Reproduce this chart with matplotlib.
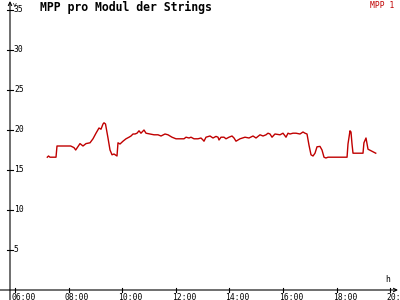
import matplotlib
matplotlib.use("Agg")
import matplotlib.pyplot as plt

# time of day in hours, MPP voltage (V)
times = [7.205, 7.25, 7.306, 7.53, 7.567, 8.078, 8.20, 8.265, 8.425, 8.537, 8.649, 8.799,
         8.91, 9.022, 9.134, 9.209, 9.284, 9.321, 9.377, 9.47, 9.545, 9.62, 9.694, 9.806,
         9.843, 9.918, 10.03, 10.142, 10.254, 10.328, 10.403, 10.478, 10.552, 10.627, 10.70,
         10.813, 10.888, 11.037, 11.187, 11.336, 11.448, 11.597, 11.709, 11.858, 12.007,
         12.157, 12.306, 12.381, 12.493, 12.567, 12.679, 12.828, 12.94, 13.015, 13.052,
         13.127, 13.276, 13.388, 13.5, 13.575, 13.612, 13.687, 13.799, 13.873, 13.985,
         14.097, 14.172, 14.246, 14.396, 14.582, 14.731, 14.881, 14.993, 15.142, 15.254,
         15.366, 15.44, 15.515, 15.59, 15.70, 15.888, 16.0, 16.112, 16.187, 16.261, 16.373,
         16.485, 16.634, 16.746, 16.82, 16.896, 16.97, 17.045, 17.12, 17.194, 17.269, 17.38,
         17.455, 17.53, 17.60, 17.68, 18.39, 18.425, 18.5, 18.537, 18.575, 18.612, 18.985,
         19.02, 19.097, 19.172, 19.46]
volts = [16.6, 16.75, 16.6, 16.6, 18.0, 18.0, 17.8, 17.5, 18.3, 18.0, 18.3, 18.4,
         18.9, 19.6, 20.25, 20.1, 20.75, 20.9, 20.75, 19.0, 17.5, 16.9, 17.0, 16.75,
         18.4, 18.25, 18.6, 18.9, 19.1, 19.25, 19.5, 19.5, 19.6, 19.9, 19.6,
         20.0, 19.6, 19.5, 19.4, 19.4, 19.25, 19.5, 19.4, 19.1, 18.9,
         18.9, 18.9, 19.1, 19.0, 19.1, 18.9, 18.9, 19.0, 18.75, 18.6,
         19.1, 19.25, 19.0, 19.2, 19.1, 18.75, 19.1, 19.1, 18.9, 19.1,
         19.25, 19.0, 18.6, 18.9, 19.1, 19.0, 19.25, 19.0, 19.4, 19.25,
         19.4, 19.6, 19.5, 19.1, 19.5, 19.4, 19.6, 19.1, 19.6, 19.5, 19.6,
         19.6, 19.5, 19.75, 19.6, 19.5, 18.1, 16.9, 16.75, 17.1, 17.9, 17.95,
         17.5, 16.6, 16.5, 16.6, 16.6, 18.25, 19.9, 19.75, 18.25, 17.1, 17.1,
         18.4, 19.0, 17.6, 17.1]

y_ticks = [5, 10, 15, 20, 25, 30, 35]
x_ticks = [6, 8, 10, 12, 14, 16, 18, 20]
x_labels = ["06:00", "08:00", "10:00", "12:00", "14:00", "16:00", "18:00", "20:00"]

title = "MPP pro Modul der Strings"
series_name = "MPP 1"

red = "#c00000"
mono = "DejaVu Sans Mono"

fig = plt.figure(figsize=(4, 3), dpi=100)
ax = fig.add_axes([0, 0, 1, 1])
ax.axis("off")
# pixel mapping: x px 15 -> 6h, 26.8 px/h ; y px 290 -> 0 V, 8 px/V
px_h = 26.8
px_v = 8.0
ax.set_xlim(6 - 15 / px_h, 6 + 385 / px_h)
ax.set_ylim(-10 / px_v, 290 / px_v)

x0 = 6 - 5 / px_h  # y-axis position

# axes with arrows
ax.annotate("", xy=(x0, 289 / px_v), xytext=(x0, -10 / px_v),
            arrowprops=dict(arrowstyle="->", lw=0.8, color="black", shrinkA=0, shrinkB=0,
                            mutation_scale=6))
ax.annotate("", xy=(6 + 383 / px_h, 0), xytext=(6 - 15 / px_h, 0),
            arrowprops=dict(arrowstyle="->", lw=0.8, color="black", shrinkA=0, shrinkB=0,
                            mutation_scale=6))

# y ticks + labels
for v in y_ticks:
    ax.plot([x0 - 3 / px_h, x0 + 3 / px_h], [v, v], color="black", lw=0.8)
    ax.text(x0 + 4 / px_h, v, str(v), fontsize=5.8, family=mono, ha="left", va="center")

# x ticks + labels
for t, lab in zip(x_ticks, x_labels):
    ax.plot([t, t], [2 / px_v, -2 / px_v], color="black", lw=0.8)
    ax.text(t - 4 / px_h, -3 / px_v, lab, fontsize=5.8, family=mono, ha="left", va="top")

ax.text(x0 + 3 / px_h, 287 / px_v, "V", fontsize=4.5, family=mono, ha="left", va="top")
ax.text(6 + 370 / px_h, 6 / px_v, "h", fontsize=5.8, family=mono, ha="left", va="bottom")

ax.plot(times, volts, color=red, lw=1.0)

fig.text(40 / 400, 1 - 11 / 300, title, fontsize=8.3, family=mono, fontweight="bold",
         ha="left", va="baseline")
fig.text(394 / 400, 1 - 7.5 / 300, series_name, fontsize=5.8, family=mono, color=red,
         ha="right", va="baseline")

fig.savefig("out.png", dpi=100, facecolor="white")
